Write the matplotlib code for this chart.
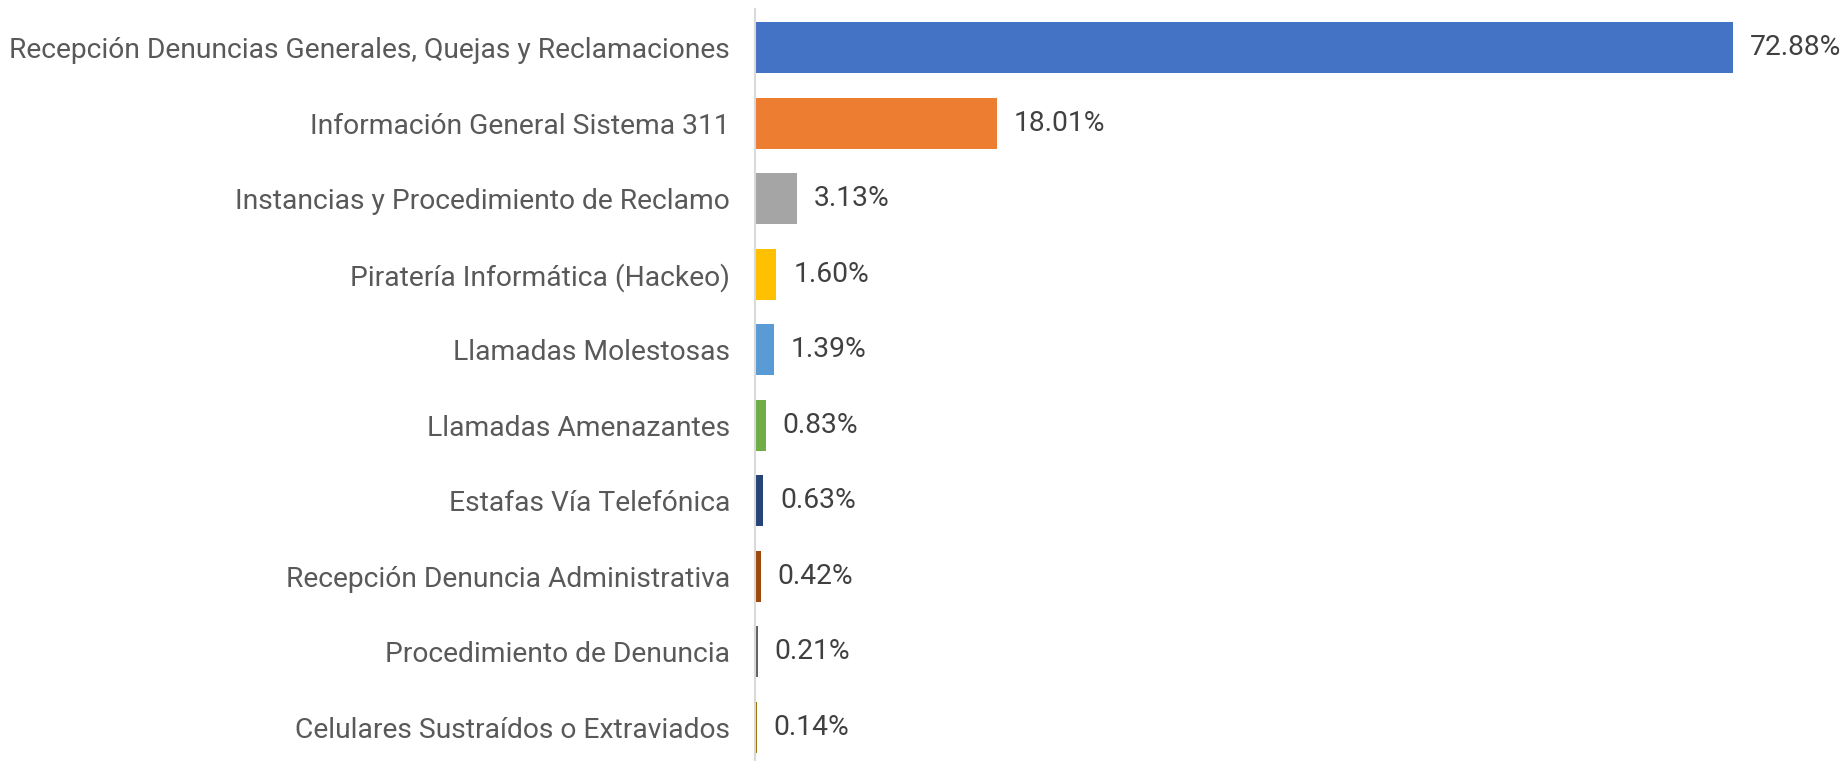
import matplotlib.pyplot as plt

plt.rcParams['font.family'] = ['Roboto', 'DejaVu Sans']

categorias = [
    'Recepción Denuncias Generales, Quejas y Reclamaciones',
    'Información General Sistema 311',
    'Instancias y Procedimiento de Reclamo',
    'Piratería Informática (Hackeo)',
    'Llamadas Molestosas',
    'Llamadas Amenazantes',
    'Estafas Vía Telefónica',
    'Recepción Denuncia Administrativa',
    'Procedimiento de Denuncia',
    'Celulares Sustraídos o Extraviados',
]
porcentajes = [72.88, 18.01, 3.13, 1.60, 1.39, 0.83, 0.63, 0.42, 0.21, 0.14]
colores = ['#4472C4', '#ED7D31', '#A5A5A5', '#FFC000', '#5B9BD5',
           '#70AD47', '#264478', '#9E480E', '#636363', '#997300']

fig = plt.figure(figsize=(18.44, 7.61), dpi=100)
ax = fig.add_axes([755 / 1844, 0, 1089 / 1844, 752 / 761])

y = list(range(len(categorias)))
ax.barh(y, porcentajes, height=0.675, color=colores)

# etiquetas de valor
for yi, v in zip(y, porcentajes):
    ax.annotate(f'{v:.2f}%', (v, yi), xytext=(12, 0), textcoords='offset points',
                va='center', ha='left', fontsize=20.3, color='#404040')

ax.set_xlim(0, 1089 / 13.42)
ax.set_ylim(len(categorias) - 1 + 0.45, -0.515)
ax.set_yticks(y)
ax.set_yticklabels(categorias, fontsize=20.3, color='#595959')
ax.tick_params(axis='y', length=0, pad=18)
ax.set_xticks([])

for s in ['top', 'right', 'bottom']:
    ax.spines[s].set_visible(False)
ax.spines['left'].set_color('#D9D9D9')
ax.spines['left'].set_linewidth(1.5)

fig.savefig('out.png', dpi=100)
